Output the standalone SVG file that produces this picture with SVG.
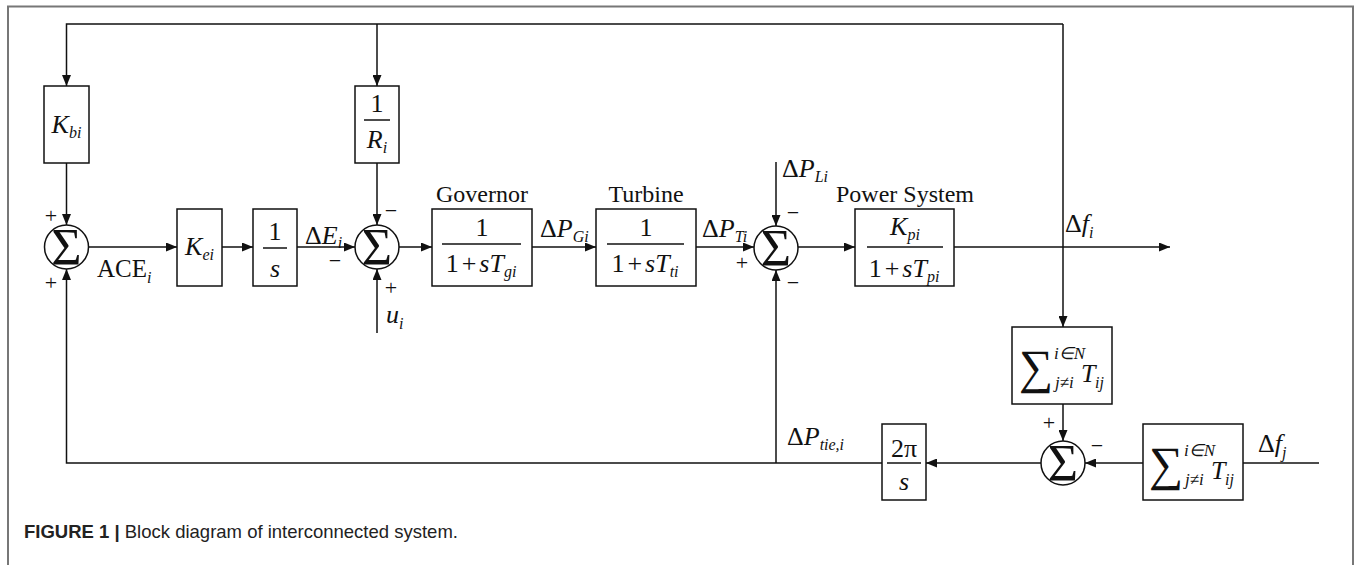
<svg xmlns="http://www.w3.org/2000/svg" width="1356" height="565" viewBox="0 0 1356 565">
<style>
.ln{fill:none;stroke:#111;stroke-width:1.5}
.bx{fill:#fff;stroke:#111;stroke-width:1.5}
.t{font-family:"Liberation Serif","Times New Roman",serif;fill:#111;font-size:26px}
.h{font-family:"Liberation Serif","Times New Roman",serif;fill:#111;font-size:24px;text-anchor:middle}
.i{font-style:italic}
.s{font-size:16px;font-style:italic}
.ss{font-family:"Liberation Serif","Times New Roman",serif;fill:#111;font-size:17px;font-style:italic}
.big{font-family:"Liberation Serif","Times New Roman",serif;fill:#111;font-size:48px}
.sg{font-family:"Liberation Serif","Times New Roman",serif;fill:#111;font-size:52px;text-anchor:middle}
.pm{font-family:"Liberation Serif","Times New Roman",serif;fill:#111;font-size:22px;text-anchor:middle}
.cap{font-family:"Liberation Sans",Arial,sans-serif;fill:#222;font-size:18.5px}
</style>
<defs>
<marker id="ar" markerUnits="userSpaceOnUse" markerWidth="11" markerHeight="9" viewBox="0 0 11 9" refX="11" refY="4.5" orient="auto">
<path d="M0,0 L11,4.5 L0,9 z" fill="#111"/>
</marker>
</defs>
<rect width="1356" height="565" fill="#fff"/>
<path d="M8,565 V6.5 H1353 V565" fill="none" stroke="#777" stroke-width="2"/>

<g id="connectors">
<path class="ln" d="M1063,24 H66.5 V86" marker-end="url(#ar)"/>
<path class="ln" d="M377,24 V86" marker-end="url(#ar)"/>
<path class="ln" d="M1063,24 V327" marker-end="url(#ar)"/>
<path class="ln" d="M66.5,163 V225" marker-end="url(#ar)"/>
<path class="ln" d="M377,163 V225" marker-end="url(#ar)"/>
<path class="ln" d="M88.5,247 H177" marker-end="url(#ar)"/>
<path class="ln" d="M222,247 H253" marker-end="url(#ar)"/>
<path class="ln" d="M297,247 H355" marker-end="url(#ar)"/>
<path class="ln" d="M399,247 H432" marker-end="url(#ar)"/>
<path class="ln" d="M532,247 H596" marker-end="url(#ar)"/>
<path class="ln" d="M696,247 H754" marker-end="url(#ar)"/>
<path class="ln" d="M776,162 V226" marker-end="url(#ar)"/>
<path class="ln" d="M798,247 H855" marker-end="url(#ar)"/>
<path class="ln" d="M954,247 H1170" marker-end="url(#ar)"/>
<path class="ln" d="M377,333 V269" marker-end="url(#ar)"/>
<path class="ln" d="M1063,404 V441" marker-end="url(#ar)"/>
<path class="ln" d="M1319,463 H1243"/>
<path class="ln" d="M1143,463 H1085" marker-end="url(#ar)"/>
<path class="ln" d="M1041,463 H926" marker-end="url(#ar)"/>
<path class="ln" d="M882,463 H66.5 V269" marker-end="url(#ar)"/>
<path class="ln" d="M776,463 V270" marker-end="url(#ar)"/>
</g>

<g id="kbi">
<rect class="bx" x="44" y="86" width="45" height="77"/>
<text class="t" x="66.5" y="133" text-anchor="middle"><tspan class="i">K</tspan><tspan class="s" dy="5">bi</tspan></text>
</g>

<g id="rinv">
<rect class="bx" x="355" y="86" width="44" height="77"/>
<text class="t" x="377" y="112" text-anchor="middle">1</text>
<line class="ln" x1="364" y1="120" x2="390" y2="120"/>
<text class="t" x="377" y="148" text-anchor="middle"><tspan class="i">R</tspan><tspan class="s" dy="5">i</tspan></text>
</g>

<g id="sum1">
<circle class="bx" cx="66.5" cy="247" r="22"/>
<text class="sg" x="66.5" y="265">Σ</text>
<text class="pm" x="51" y="223">+</text>
<text class="pm" x="51" y="290">+</text>
<text class="t" x="97" y="277" style="font-size:25px">ACE<tspan class="s" dy="6">i</tspan></text>
</g>

<g id="kei">
<rect class="bx" x="177" y="209" width="45" height="77"/>
<text class="t" x="199.5" y="255" text-anchor="middle"><tspan class="i">K</tspan><tspan class="s" dy="5">ei</tspan></text>
</g>

<g id="integ">
<rect class="bx" x="253" y="209" width="44" height="77"/>
<text class="t" x="275" y="240" text-anchor="middle">1</text>
<line class="ln" x1="263" y1="248" x2="287" y2="248"/>
<text class="t i" x="275" y="277" text-anchor="middle">s</text>
<text class="t" x="305" y="244"><tspan>Δ</tspan><tspan class="i">E</tspan><tspan class="s" dy="4">i</tspan></text>
</g>

<g id="sum2">
<circle class="bx" cx="377" cy="247" r="22"/>
<text class="sg" x="377" y="265">Σ</text>
<text class="pm" x="391" y="218">−</text>
<text class="pm" x="335" y="268">−</text>
<text class="pm" x="391" y="295">+</text>
<text class="t" x="386" y="323"><tspan class="i">u</tspan><tspan class="s" dy="6">i</tspan></text>
</g>

<g id="governor">
<text class="h" x="482" y="202">Governor</text>
<rect class="bx" x="432" y="209" width="100" height="77"/>
<text class="t" x="482" y="236" text-anchor="middle">1</text>
<line class="ln" x1="442" y1="244" x2="521" y2="244"/>
<text class="t" x="481" y="272" text-anchor="middle">1<tspan dx="3">+</tspan><tspan class="i" dx="3">sT</tspan><tspan class="s" dy="5">gi</tspan></text>
<text class="t" x="540" y="237"><tspan>Δ</tspan><tspan class="i">P</tspan><tspan class="s" dy="5">Gi</tspan></text>
</g>

<g id="turbine">
<text class="h" x="646" y="202">Turbine</text>
<rect class="bx" x="596" y="209" width="100" height="77"/>
<text class="t" x="646" y="236" text-anchor="middle">1</text>
<line class="ln" x1="607" y1="244" x2="684" y2="244"/>
<text class="t" x="645" y="272" text-anchor="middle">1<tspan dx="3">+</tspan><tspan class="i" dx="3">sT</tspan><tspan class="s" dy="5">ti</tspan></text>
<text class="t" x="702" y="237"><tspan>Δ</tspan><tspan class="i">P</tspan><tspan class="s" dy="5">Ti</tspan></text>
</g>

<g id="sum3">
<circle class="bx" cx="776" cy="248" r="22"/>
<text class="sg" x="776" y="266">Σ</text>
<text class="pm" x="742" y="270">+</text>
<text class="pm" x="793" y="220">−</text>
<text class="pm" x="793" y="290">−</text>
<text class="t" x="782" y="177"><tspan>Δ</tspan><tspan class="i">P</tspan><tspan class="s" dy="5">Li</tspan></text>
</g>

<g id="powersystem">
<text class="h" x="905" y="202">Power System</text>
<rect class="bx" x="855" y="209" width="99" height="77"/>
<text class="t" x="905" y="235" text-anchor="middle"><tspan class="i">K</tspan><tspan class="s" dy="5">pi</tspan></text>
<line class="ln" x1="867" y1="247" x2="943" y2="247"/>
<text class="t" x="904" y="277" text-anchor="middle">1<tspan dx="3">+</tspan><tspan class="i" dx="3">sT</tspan><tspan class="s" dy="5">pi</tspan></text>
<text class="t" x="1065" y="232"><tspan>Δ</tspan><tspan class="i">f</tspan><tspan class="s" dy="6">i</tspan></text>
</g>

<g id="tij1">
<rect class="bx" x="1012" y="327" width="100" height="77"/>
<text class="big" x="1019" y="383">∑</text>
<text class="ss" x="1054" y="359">i∈N</text>
<text class="ss" x="1055" y="388">j≠i</text>
<text class="t i" x="1081" y="382">T</text>
<text class="t s" x="1095" y="388">ij</text>
</g>

<g id="sum4">
<circle class="bx" cx="1063" cy="463" r="22"/>
<text class="sg" x="1063" y="481">Σ</text>
<text class="pm" x="1049" y="430">+</text>
<text class="pm" x="1097" y="453">−</text>
</g>

<g id="tij2">
<rect class="bx" x="1143" y="424" width="100" height="76"/>
<text class="big" x="1149" y="480">∑</text>
<text class="ss" x="1184" y="456">i∈N</text>
<text class="ss" x="1185" y="485">j≠i</text>
<text class="t i" x="1211" y="479">T</text>
<text class="t s" x="1225" y="485">ij</text>
<text class="t" x="1258" y="452"><tspan>Δ</tspan><tspan class="i">f</tspan><tspan class="s" dy="6">j</tspan></text>
</g>

<g id="tie">
<rect class="bx" x="882" y="424" width="44" height="76"/>
<text class="t" x="904" y="457" text-anchor="middle">2π</text>
<line class="ln" x1="887" y1="463" x2="921" y2="463"/>
<text class="t i" x="904" y="490" text-anchor="middle">s</text>
<text class="t" x="787" y="445"><tspan>Δ</tspan><tspan class="i">P</tspan><tspan class="s" dy="5">tie,i</tspan></text>
</g>

<text class="cap" x="24" y="538"><tspan font-weight="bold">FIGURE 1 |</tspan> Block diagram of interconnected system.</text>
</svg>
